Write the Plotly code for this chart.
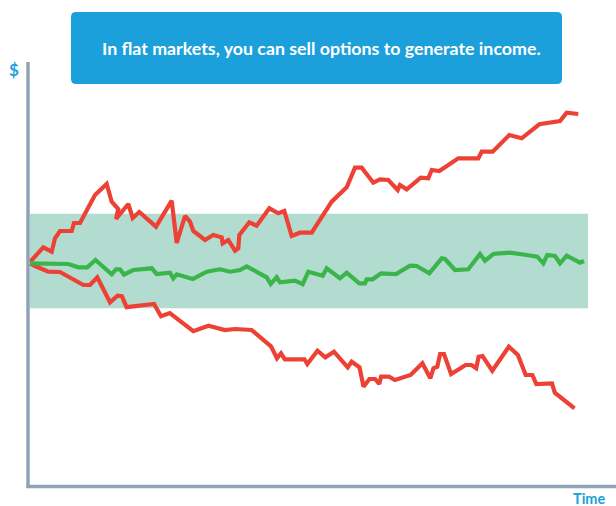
import plotly.graph_objects as go

W, H = 616, 506

# ---- data (time index, relative value; start = 0) ----
up_t = [0, 13.3, 21.7, 25, 30, 41.7, 44, 50, 65, 76.7, 81.7, 88.3, 86, 98.3, 102.7, 109.3, 126,
        141.7, 146.7, 155, 160, 163.3, 175, 183.3, 191.7, 192.7, 198.3, 205, 208.3, 209.3, 219.3,
        226.7, 239.3, 248.3, 254.3, 261.7, 270, 281.7, 301.7, 316.7, 325, 331.7, 343.3, 350, 358.3,
        367.7, 370, 376.7, 390.7, 398.3, 401.7, 409.3, 428.3, 448.3, 451.7, 462.7, 479.3, 491.7,
        509.3, 518.3, 530, 536.7, 548.3]
up_v = [0, 14.7, 10.3, 23.7, 31, 31, 39, 39, 67, 78, 60.3, 53, 43, 58, 44, 50, 35.3,
        61.3, 19, 46, 40.3, 31, 22, 27, 24.7, 18.7, 22, 11.3, 13.7, 27, 39.7,
        36.3, 53.7, 48.7, 51, 26, 29.3, 29.3, 60.3, 74.7, 94.3, 94.3, 79.3, 82.7, 82,
        72, 77, 72.7, 84.3, 83.7, 92, 91, 103.7, 103.7, 110.3, 110.3, 127, 123.7,
        137.7, 139.3, 141, 149.3, 148]

mid_t = [0, 38.3, 48.3, 57.3, 65.5, 81.7, 86, 90, 94, 103.3, 121.7, 126.7, 140, 143.3, 146.7,
         162.7, 176.7, 190, 200, 210, 216.7, 236.7, 240.7, 246.7, 250, 265, 272.7, 278.3,
         292.7, 296.7, 310, 316.7, 329.3, 335, 336.7, 342.7, 351, 366, 380, 386.7, 399.3,
         411.7, 415, 425, 438.3, 450, 455, 463.3, 469.3, 480, 496.7, 507.3, 513.3, 517.3,
         525, 530, 536.7, 550, 554]
mid_v = [-1.3, -2, -5.3, -5.3, 2, -12.3, -7.3, -7.3, -12.5, -8, -6.3, -12, -10.7, -16.3, -12.3,
         -17, -9.7, -7.3, -9.7, -8, -4.3, -15.3, -22, -15.3, -20.3, -18.7, -22.2, -9.7,
         -13.7, -6.3, -16.3, -10.7, -21.3, -21.3, -17.3, -17.3, -11.3, -12, -3.7, -4, -11.3,
         3.7, 3, -8, -7.3, 8, 1.3, 8, 8.7, 9.3, 7, 5.3, -1.3, 7, 6, -1.3, 6.3, -0.7, 1]

dn_t = [0, 5, 18.3, 30, 53.4, 60, 67.3, 80, 87.6, 91.8, 96.6, 124, 131, 139.8, 163.3, 178.5,
        194.8, 205, 221.5, 241, 247, 251, 254.9, 274.5, 277.3, 287.5, 295.3, 304, 317.7, 321.7,
        329.5, 333.5, 339.4, 345.2, 349.2, 351.1, 359, 364.9, 380.6, 392.4, 400.3, 403.4,
        407.3, 410.1, 414, 421.1, 435.6, 441.5, 446.2, 448.6, 452.5, 462.3, 478.8, 487.9,
        495.7, 502.4, 506.3, 522, 524.8, 544.5]
dn_v = [-1.3, -4, -9.7, -10, -23, -23, -15.3, -40.3, -33.7, -34.2, -45.2, -42, -54.2, -51, -69.2,
        -63.7, -68, -67, -68, -84.3, -96.3, -91.3, -97.3, -97.3, -102, -88.7, -95.3, -89.7,
        -105.3, -99.7, -105.3, -124.7, -117, -117, -122, -114.7, -114.7, -118, -113, -101.3,
        -116.3, -106.3, -104.7, -92, -92, -112, -103, -103, -106.3, -94.7, -94, -108.7,
        -84.7, -93, -113, -113, -122, -121.3, -130.7, -146.3]

band_low, band_high = -46.3, 48.3
band_t0, band_t1 = 0, 558

X_RANGE = [-30, 586]
Y_RANGE = [262 - H, 262]

RED = "#EE4136"
GREEN = "#3BB54A"
BLUE = "#1BA0DB"
AXIS = "#8FA3B5"
BAND = "#B1DCCF"

fig = go.Figure()

for t, v, c in [(up_t, up_v, RED), (dn_t, dn_v, RED), (mid_t, mid_v, GREEN)]:
    fig.add_trace(go.Scatter(x=t, y=v, mode="lines",
                             line=dict(color=c, width=4.2, shape="linear"),
                             hoverinfo="skip", showlegend=False))

# flat-market band
fig.add_shape(type="rect", xref="x", yref="y", x0=band_t0, x1=band_t1,
              y0=band_low, y1=band_high, fillcolor=BAND, line=dict(width=0),
              layer="below")

# axes lines (pixel positions -> paper)
def px(x):
    return x / W

def py(y):
    return 1 - y / H

fig.add_shape(type="line", xref="paper", yref="paper", x0=px(28), x1=px(28),
              y0=py(62), y1=py(488), line=dict(color=AXIS, width=3.5))
fig.add_shape(type="line", xref="paper", yref="paper", x0=px(26.5), x1=px(616),
              y0=py(486.5), y1=py(486.5), line=dict(color=AXIS, width=3.5))

# rounded title box
x0, x1, y0, y1, r = 71, 562, 12, 84, 5
path = (f"M {px(x0 + r)} {py(y0)} L {px(x1 - r)} {py(y0)} "
        f"Q {px(x1)} {py(y0)} {px(x1)} {py(y0 + r)} "
        f"L {px(x1)} {py(y1 - r)} Q {px(x1)} {py(y1)} {px(x1 - r)} {py(y1)} "
        f"L {px(x0 + r)} {py(y1)} Q {px(x0)} {py(y1)} {px(x0)} {py(y1 - r)} "
        f"L {px(x0)} {py(y0 + r)} Q {px(x0)} {py(y0)} {px(x0 + r)} {py(y0)} Z")
fig.add_shape(type="path", xref="paper", yref="paper", path=path,
              fillcolor=BLUE, line=dict(width=0))

fig.add_annotation(xref="paper", yref="paper", x=px(321), y=py(47.5),
                   text="In flat markets, you can sell options to generate income.",
                   showarrow=False, xanchor="center", yanchor="middle",
                   font=dict(family="Lato", size=17.8, color="white", weight=700))
fig.add_annotation(xref="paper", yref="paper", x=px(13.5), y=py(69),
                   text="$", showarrow=False, xanchor="center", yanchor="middle",
                   font=dict(family="Lato", size=17, color=BLUE, weight="bold"))
fig.add_annotation(xref="paper", yref="paper", x=px(588.5), y=py(498),
                   text="Time", showarrow=False, xanchor="center", yanchor="middle",
                   font=dict(family="Lato", size=14.5, color=BLUE, weight="bold"))

fig.update_layout(
    width=W, height=H,
    margin=dict(l=0, r=0, t=0, b=0),
    paper_bgcolor="white", plot_bgcolor="white",
    xaxis=dict(range=X_RANGE, visible=False, fixedrange=True),
    yaxis=dict(range=Y_RANGE, visible=False, fixedrange=True),
)

fig.write_html("out.html", config={"displayModeBar": False},
               post_script="document.body.style.margin='0';document.body.style.overflow='hidden';")
